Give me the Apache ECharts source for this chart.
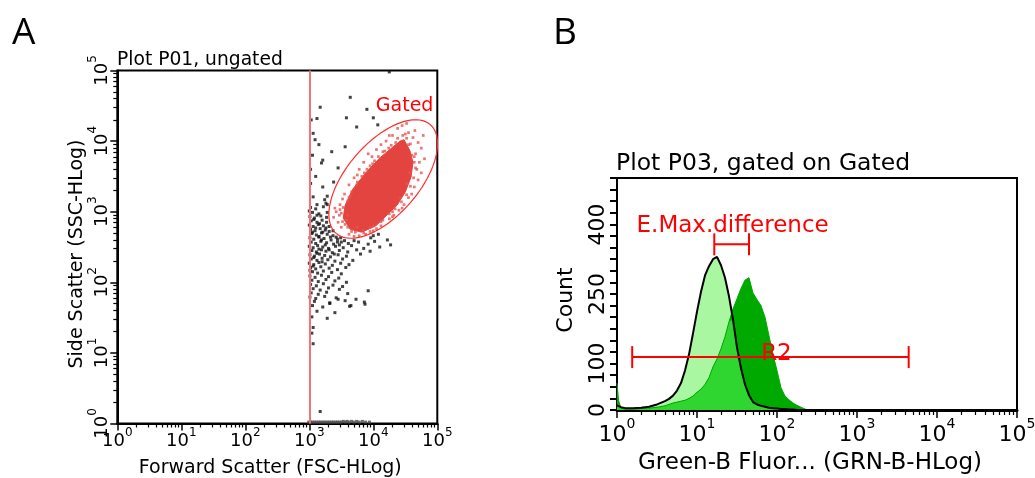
<!DOCTYPE html>
<html><head><meta charset="utf-8">
<script src="https://cdn.jsdelivr.net/npm/echarts@6/dist/echarts.min.js"></script>
<style>html,body{margin:0;padding:0;background:#fff}#c{width:1035px;height:478px}</style>
</head><body><div id="c"></div>
<script>
// ---------- Panel A data (values in decades: log10 of channel value) ----------
const blackEvents = [
 [3.64,4.62],[3.17,4.48],[3.12,4.32],[3.06,4.11],[3.09,4.02],[3.58,4.33],[3.74,4.20],[4.00,4.33],[4.07,4.23],[3.56,3.92],
 [3.21,3.73],[3.19,3.69],[3.06,3.21],[3.21,3.35],[3.24,3.17],[3.38,3.42],[3.28,3.10],[4.25,4.98],[3.03,4.30],[3.05,3.80],
 [3.15,3.95],[3.10,3.50],[3.28,3.22],[3.26,3.12],[3.12,3.10],[3.02,3.40],[3.90,4.45],[3.45,3.62],[3.35,3.85],[3.02,3.60],
 [3.02,3.06],[3.10,3.04],[3.22,3.07],
 [3.05,2.99],[3.15,2.97],[3.28,2.99],[3.00,3.01],
 [3.01,2.93],[3.08,2.91],[3.18,2.94],[3.27,2.92],[3.12,2.95],
 [3.03,2.87],[3.12,2.85],[3.20,2.88],[3.27,2.85],[3.07,2.89],[3.16,2.83],
 [3.00,2.81],[3.06,2.79],[3.14,2.82],[3.22,2.80],[3.31,2.79],[3.10,2.77],[3.26,2.77],
 [3.02,2.75],[3.09,2.73],[3.17,2.76],[3.25,2.74],[3.31,2.72],[3.37,2.73],[3.05,2.71],[3.21,2.71],
 [3.04,2.69],[3.11,2.67],[3.19,2.70],[3.28,2.68],[3.37,2.66],[4.00,2.66],[3.15,2.65],[3.33,2.64],[3.42,2.64],
 [3.01,2.63],[3.07,2.61],[3.15,2.64],[3.23,2.62],[3.34,2.60],[3.44,2.61],[3.55,2.59],[3.96,2.63],[4.08,2.68],[3.49,2.63],[3.19,2.60],
 [3.03,2.57],[3.10,2.55],[3.18,2.58],[3.27,2.56],[3.38,2.54],[3.50,2.57],[3.61,2.55],[3.77,2.57],[3.92,2.54],[4.02,2.58],[4.22,2.60],[3.44,2.57],[3.70,2.59],
 [3.00,2.51],[3.06,2.49],[3.13,2.52],[3.21,2.50],[3.30,2.48],[3.41,2.51],[3.53,2.49],[3.66,2.52],[3.85,2.48],[4.27,2.53],[3.25,2.53],[3.47,2.53],[4.10,2.50],
 [3.04,2.45],[3.11,2.43],[3.19,2.46],[3.26,2.44],[3.36,2.42],[3.47,2.45],[3.60,2.43],[3.74,2.46],[3.15,2.47],[3.31,2.46],[3.95,2.44],
 [3.01,2.39],[3.08,2.37],[3.16,2.40],[3.24,2.38],[3.33,2.36],[3.45,2.39],[3.58,2.37],[3.80,2.40],[3.12,2.41],[3.39,2.40],
 [3.03,2.33],[3.12,2.31],[3.20,2.34],[3.29,2.32],[3.40,2.30],[3.52,2.33],[3.68,2.31],[3.07,2.35],
 [3.00,2.27],[3.07,2.25],[3.15,2.28],[3.25,2.26],[3.36,2.24],[3.49,2.27],[3.62,2.25],[3.20,2.29],
 [3.02,2.21],[3.10,2.19],[3.18,2.22],[3.31,2.20],[3.44,2.18],[3.57,2.21],[3.06,2.23],
 [3.05,2.15],[3.13,2.13],[3.22,2.16],[3.35,2.14],[3.50,2.12],[3.01,2.17],
 [3.01,2.09],[3.09,2.07],[3.19,2.10],[3.30,2.08],[3.46,2.06],
 [3.04,2.03],[3.14,2.01],[3.26,2.04],[3.40,2.02],[3.58,2.00],
 [3.02,1.97],[3.11,1.95],[3.22,1.98],[3.37,1.96],[3.52,1.94],
 [3.06,1.91],[3.17,1.89],[3.30,1.92],[3.47,1.90],
 [3.03,1.85],[3.14,1.83],[3.27,1.86],[3.60,1.84],
 [3.01,1.79],[3.10,1.77],[3.24,1.80],[3.42,1.78],[3.73,1.76],
 [3.08,1.73],[3.32,1.71],[3.56,1.74],[3.86,1.72],
 [3.05,1.67],[3.21,1.65],[3.63,1.66],
 [3.12,1.59],[3.40,1.57],
 [3.04,1.51],[3.28,1.49],
 [3.87,1.69],[3.65,1.67],[3.92,1.88],[3.06,1.36],[3.04,1.28],[3.06,1.13],[3.17,0.17],[3.32,1.70],[3.45,1.76]
];
const floorEvents = [
 [2.99,0.02],[3.02,0.02],[3.05,0.02],[3.08,0.02],[3.11,0.02],[3.14,0.02],[3.17,0.02],[3.20,0.02],[3.23,0.02],[3.26,0.02],
 [3.29,0.02],[3.32,0.02],[3.35,0.02],[3.38,0.02],[3.41,0.02],[3.44,0.02],[3.47,0.02],[3.50,0.02],[3.53,0.03],[3.56,0.02],
 [3.59,0.03],[3.62,0.02],[3.66,0.03],[3.70,0.02],[3.74,0.03],[3.78,0.02],[3.83,0.03],[3.88,0.02],[3.94,0.02]
];
const gatedSparse = [
 [4.38,4.18],[4.45,4.22],[4.55,4.12],[4.62,4.05],[4.70,3.98],[4.75,3.90],[4.52,4.25],[4.65,4.15],[4.30,4.08],[4.78,4.08],
 [4.66,3.82],[4.72,3.70],[4.68,3.60],[4.80,3.75],[4.70,3.45],[4.64,3.35],[4.75,3.55],
 [4.20,4.00],[4.05,3.88],[3.98,3.78],[3.85,3.70],[3.78,3.60],[3.70,3.48],[4.12,3.95],[3.92,3.82],[3.75,3.52],[3.62,3.38],[4.25,4.08],
 [3.55,3.25],[3.48,3.10],[3.42,3.00],[3.38,2.92],[3.45,2.85],[3.50,2.78],[3.52,3.18],[3.40,3.05],[3.47,2.95],[3.58,2.88],
 [3.62,2.68],[3.70,2.65],[3.78,2.66],[3.88,2.68],[3.95,2.72],[4.05,2.76],[4.12,2.80],[3.66,2.72],[3.84,2.74],[4.00,2.73],
 [4.25,2.90],[4.32,2.95],[4.40,3.02],[4.48,3.10],[4.55,3.20],[4.30,2.93],[4.45,3.05],[4.60,3.25],
 [4.55,3.95],[4.60,3.80],[4.52,3.40],[4.42,3.20],[4.30,3.00],[4.15,2.88],[3.95,2.78],[3.75,2.78],[3.60,2.95],[3.62,3.20],
 [3.75,3.42],[3.95,3.65],[4.15,3.85],[4.35,3.98],[4.64,3.70],[4.57,3.55],
 [3.60,3.15],[3.66,3.28],[3.74,3.38],[3.82,3.50],[3.90,3.60],[3.99,3.68],[4.08,3.78],[4.18,3.86],[4.28,3.94],[4.38,4.04],
 [3.64,3.22],[3.86,3.55],[4.02,3.72],[4.24,3.90],[4.46,4.08],[4.52,4.04],[4.58,3.96],[4.50,4.10],
 [4.64,3.78],[4.66,3.62],[4.63,3.48],[4.58,3.36],[4.52,3.24],[4.44,3.14],[4.34,3.04],[4.25,2.97],[4.12,2.86],[4.00,2.80],
 [3.85,2.70],[3.72,2.71],[3.60,2.78],[3.52,2.86],[3.50,2.98],[3.53,3.06],[3.48,3.03],[3.56,2.82]
];
const gatedCore = [
 [4.48,4.02],[4.57,3.87],[4.62,3.70],[4.59,3.49],[4.50,3.28],[4.37,3.09],[4.20,2.94],[4.04,2.80],[3.82,2.71],
 [3.64,2.75],[3.53,2.91],[3.56,3.09],[3.68,3.32],[3.89,3.56],[4.10,3.76],[4.31,3.92],[4.42,4.00]
];
const fscThreshold = [3.0];
const gateCenter = [4.155, 3.463];
const gateMajor = [0.735, 0.77];
const gateMinor = [0.425, -0.334];

// ---------- Panel B data ----------
const grnBins = [0,0.02,0.05,0.1,0.2,0.3,0.4,0.5,0.6,0.65,0.7,0.75,0.8,0.85,0.9,0.95,1.0,1.05,1.1,1.15,1.2,1.25,1.3,1.35,1.4,1.45,1.5,1.55,1.6,1.65,1.7,1.75,1.8,1.85,1.9,1.95,2.0,2.05,2.1,2.15,2.2,2.25,2.3,2.35,2.4];
const countControl = [10,9,6,4,4,5,7,12,19,24,31,42,58,85,120,165,212,255,290,310,325,330,312,285,245,195,135,90,55,32,17,12,9,7,5,4,3,2,2,1,1,0,0,0,0];
const countGated  = [58,20,4,2,2,3,4,6,9,12,15,17,19,21,25,30,38,45,55,70,93,110,132,158,190,218,240,262,280,285,252,238,225,200,160,120,85,48,30,22,15,10,6,2,0];
const markerNames = ['R2','E.Max.difference'];
const markerRanges = [[0.19,3.646,114],[1.216,1.65,357]];

const decadeTicks = [0,1,2,3,4,5];
const countLabels = [0,100,250,400];

// ---------- helpers ----------
const F = 'DejaVu Sans';
const minorTicks = [];
for (let d = 0; d < 5; d++) for (let k = 2; k <= 9; k++) minorTicks.push(d + Math.log10(k));
const countTicks = [];
for (let c = 0; c <= 500; c += 25) countTicks.push(c);
const supFmt = v => '{b|10}{s|' + Math.round(v) + '}';
const richA = { b:{fontFamily:F,fontSize:18,color:'#000',lineHeight:30}, s:{fontFamily:F,fontSize:12,color:'#000',lineHeight:12,verticalAlign:'top'} };
const richB = { b:{fontFamily:F,fontSize:22,color:'#000',lineHeight:36}, s:{fontFamily:F,fontSize:14,color:'#000',lineHeight:14,verticalAlign:'top'} };

const histCtl = grnBins.map((b,i)=>[b,countControl[i]]);
const histGat = grnBins.map((b,i)=>[b,countGated[i]]);
const histOverlap = grnBins.map((b,i)=>[b,Math.min(countControl[i],countGated[i])]);

const gridA = {left:117.3, top:70.5, width:320, height:353};
const gridB = {left:617, top:178, width:400, height:232};

const chart = echarts.init(document.getElementById('c'), null, {renderer:'canvas'});
const option = {
  animation:false,
  backgroundColor:'#fff',
  title:[
    {text:'A', left:12, top:15, padding:0, textStyle:{fontFamily:'Open Sans',fontSize:37,fontWeight:'normal',color:'#000'}},
    {text:'B', left:553, top:15, padding:0, textStyle:{fontFamily:'Open Sans',fontSize:37,fontWeight:'normal',color:'#000'}},
    {text:'Plot P01, ungated', left:117, top:51, padding:0, textStyle:{fontFamily:F,fontSize:18.7,fontWeight:'normal',color:'#000'}},
    {text:'Plot P03, gated on Gated', left:616, top:152, padding:0, textStyle:{fontFamily:F,fontSize:23.5,fontWeight:'normal',color:'#000'}}
  ],
  grid:[
    Object.assign({show:true,borderColor:'#000',borderWidth:2,backgroundColor:'#fff',outerBoundsMode:'none',containLabel:false}, gridA),
    Object.assign({show:false,outerBoundsMode:'none',containLabel:false}, gridA),
    Object.assign({show:true,borderColor:'#000',borderWidth:2,backgroundColor:'#fff',outerBoundsMode:'none',containLabel:false}, gridB),
    Object.assign({show:false,outerBoundsMode:'none',containLabel:false}, gridB)
  ],
  xAxis:[
    {gridIndex:0,type:'value',min:0,max:5,position:'bottom',
     axisLine:{show:true,onZero:false,lineStyle:{color:'#000',width:2}},
     axisTick:{show:true,customValues:decadeTicks,length:7,lineStyle:{color:'#000',width:1.5}},
     axisLabel:{show:true,customValues:decadeTicks,formatter:supFmt,rich:richA,margin:3,showMinLabel:true,showMaxLabel:true},
     splitLine:{show:false},
     name:'Forward Scatter (FSC-HLog)',nameLocation:'middle',nameGap:35,
     nameTextStyle:{fontFamily:F,fontSize:19,color:'#000',padding:[0,14,0,0]}},
    {gridIndex:1,type:'value',min:0,max:5,position:'bottom',
     axisLine:{show:false,onZero:false},
     axisTick:{show:true,customValues:minorTicks,length:4,lineStyle:{color:'#000',width:1.2}},
     axisLabel:{show:false},splitLine:{show:false}},
    {gridIndex:2,type:'value',min:0,max:5,position:'bottom',
     axisLine:{show:true,onZero:false,lineStyle:{color:'#000',width:3}},
     axisTick:{show:true,customValues:decadeTicks,length:8,lineStyle:{color:'#000',width:1.5}},
     axisLabel:{show:true,customValues:decadeTicks,formatter:supFmt,rich:richB,margin:7,showMinLabel:true,showMaxLabel:true},
     splitLine:{show:false},
     name:'Green-B Fluor... (GRN-B-HLog)',nameLocation:'middle',nameGap:42,
     nameTextStyle:{fontFamily:F,fontSize:23,color:'#000',padding:[0,14,0,0]}},
    {gridIndex:3,type:'value',min:0,max:5,position:'bottom',
     axisLine:{show:false,onZero:false},
     axisTick:{show:true,customValues:minorTicks,length:5,lineStyle:{color:'#000',width:1.2}},
     axisLabel:{show:false},splitLine:{show:false}}
  ],
  yAxis:[
    {gridIndex:0,type:'value',min:0,max:5,position:'left',
     axisLine:{show:true,onZero:false,lineStyle:{color:'#000',width:2}},
     axisTick:{show:true,customValues:decadeTicks,length:7,lineStyle:{color:'#000',width:1.5}},
     axisLabel:{show:true,customValues:decadeTicks,formatter:supFmt,rich:richA,rotate:90,margin:0,showMinLabel:true,showMaxLabel:true},
     splitLine:{show:false},
     name:'Side Scatter (SSC-HLog)',nameLocation:'middle',nameGap:30,
     nameTextStyle:{fontFamily:F,fontSize:19,color:'#000',padding:[0,14,0,0]}},
    {gridIndex:1,type:'value',min:0,max:5,position:'left',
     axisLine:{show:false,onZero:false},
     axisTick:{show:true,customValues:minorTicks,length:4,lineStyle:{color:'#000',width:1.2}},
     axisLabel:{show:false},splitLine:{show:false}},
    {gridIndex:2,type:'value',min:0,max:500,position:'left',
     axisLine:{show:true,onZero:false,lineStyle:{color:'#000',width:2}},
     axisTick:{show:true,customValues:countTicks,length:7,lineStyle:{color:'#000',width:2}},
     axisLabel:{show:true,customValues:countLabels,rotate:90,margin:7.5,fontFamily:F,fontSize:22,lineHeight:22,color:'#000',showMinLabel:true,showMaxLabel:true},
     splitLine:{show:false},
     name:'Count',nameLocation:'middle',nameGap:40,
     nameTextStyle:{fontFamily:F,fontSize:22,color:'#000',padding:[0,12,0,0]}},
    {gridIndex:3,type:'value',min:0,max:500,show:false}
  ],
  series:[
    {type:'scatter',xAxisIndex:0,yAxisIndex:0,data:blackEvents,symbol:'rect',symbolSize:3,
     itemStyle:{color:'#141414'},silent:true,z:2,
     markLine:{silent:true,symbol:['none','none'],label:{show:false},
       lineStyle:{color:'#f27474',width:2,type:'solid'},data:[{xAxis:fscThreshold[0]}]}},
    {type:'scatter',xAxisIndex:0,yAxisIndex:0,data:floorEvents,symbol:'rect',symbolSize:3,
     itemStyle:{color:'#4a4a4a'},silent:true,z:2},
    {type:'custom',xAxisIndex:0,yAxisIndex:0,data:gatedCore,encode:{x:0,y:1},silent:true,z:3,
     renderItem:(params,api)=>{
       if (params.dataIndex !== 0) return {type:'group',children:[]};
       return {type:'polygon',shape:{points:gatedCore.map(p=>api.coord(p))},style:{fill:'#e3443f',stroke:'#e3443f',lineWidth:1}};
     }},
    {type:'scatter',xAxisIndex:0,yAxisIndex:0,data:gatedSparse,symbol:'rect',symbolSize:2.7,
     itemStyle:{color:'#e8524e'},silent:true,z:3},
    {type:'custom',xAxisIndex:0,yAxisIndex:0,data:[gateCenter],encode:{x:0,y:1},silent:true,z:4,clip:true,
     renderItem:(params,api)=>{
       const pts=[];
       for (let k=0;k<=120;k++){
         const t=k/120*2*Math.PI;
         pts.push(api.coord([gateCenter[0]+gateMajor[0]*Math.cos(t)+gateMinor[0]*Math.sin(t),
                             gateCenter[1]+gateMajor[1]*Math.cos(t)+gateMinor[1]*Math.sin(t)]));
       }
       const lp = api.coord([4.04,4.50]);
       return {type:'group',children:[
         {type:'polyline',shape:{points:pts},style:{stroke:'#ff2a2a',lineWidth:1.2,fill:null}},
         {type:'text',x:lp[0],y:lp[1],style:{text:'Gated',fill:'#ff0000',font:'19px "DejaVu Sans"',
           align:'left',verticalAlign:'middle',textAlign:'left',textVerticalAlign:'middle'}}
       ]};
     }},
    {type:'line',xAxisIndex:2,yAxisIndex:2,data:histCtl,symbol:'none',silent:true,z:2,
     lineStyle:{width:0,opacity:0},areaStyle:{color:'#aaf7a2',opacity:1}},
    {type:'line',xAxisIndex:2,yAxisIndex:2,data:histGat,symbol:'none',silent:true,z:2,
     lineStyle:{width:1,color:'#00a900'},areaStyle:{color:'#00a900',opacity:1}},
    {type:'line',xAxisIndex:2,yAxisIndex:2,data:histOverlap,symbol:'none',silent:true,z:2,
     lineStyle:{width:0,opacity:0},areaStyle:{color:'#2fd62f',opacity:1}},
    {type:'line',xAxisIndex:2,yAxisIndex:2,data:histCtl,symbol:'none',silent:true,z:2,
     lineStyle:{width:2,color:'#000'}},
    {type:'custom',xAxisIndex:2,yAxisIndex:2,data:markerRanges,encode:{x:[0,1],y:2},silent:true,z:5,
     renderItem:(params,api)=>{
       const y=api.value(2);
       const p1=api.coord([api.value(0),y]), p2=api.coord([api.value(1),y]);
       const cap=11, isR2=params.dataIndex===0;
       const mid=(p1[0]+p2[0])/2;
       const st={stroke:'#ff0000',lineWidth:2};
       return {type:'group',children:[
         {type:'line',shape:{x1:p1[0],y1:p1[1],x2:p2[0],y2:p2[1]},style:st},
         {type:'line',shape:{x1:p1[0],y1:p1[1]-cap,x2:p1[0],y2:p1[1]+cap},style:st},
         {type:'line',shape:{x1:p2[0],y1:p2[1]-cap,x2:p2[0],y2:p2[1]+cap},style:st},
         {type:'text',x:mid+(isR2?6:1),y:p1[1]+(isR2?-3:-18),
          style:{text:markerNames[params.dataIndex],fill:'#ff0000',font:'23px "DejaVu Sans"',
            align:'center',verticalAlign:'middle',textAlign:'center',textVerticalAlign:'middle'}}
       ]};
     }}
  ]
};
chart.setOption(option);
</script>
</body></html>
